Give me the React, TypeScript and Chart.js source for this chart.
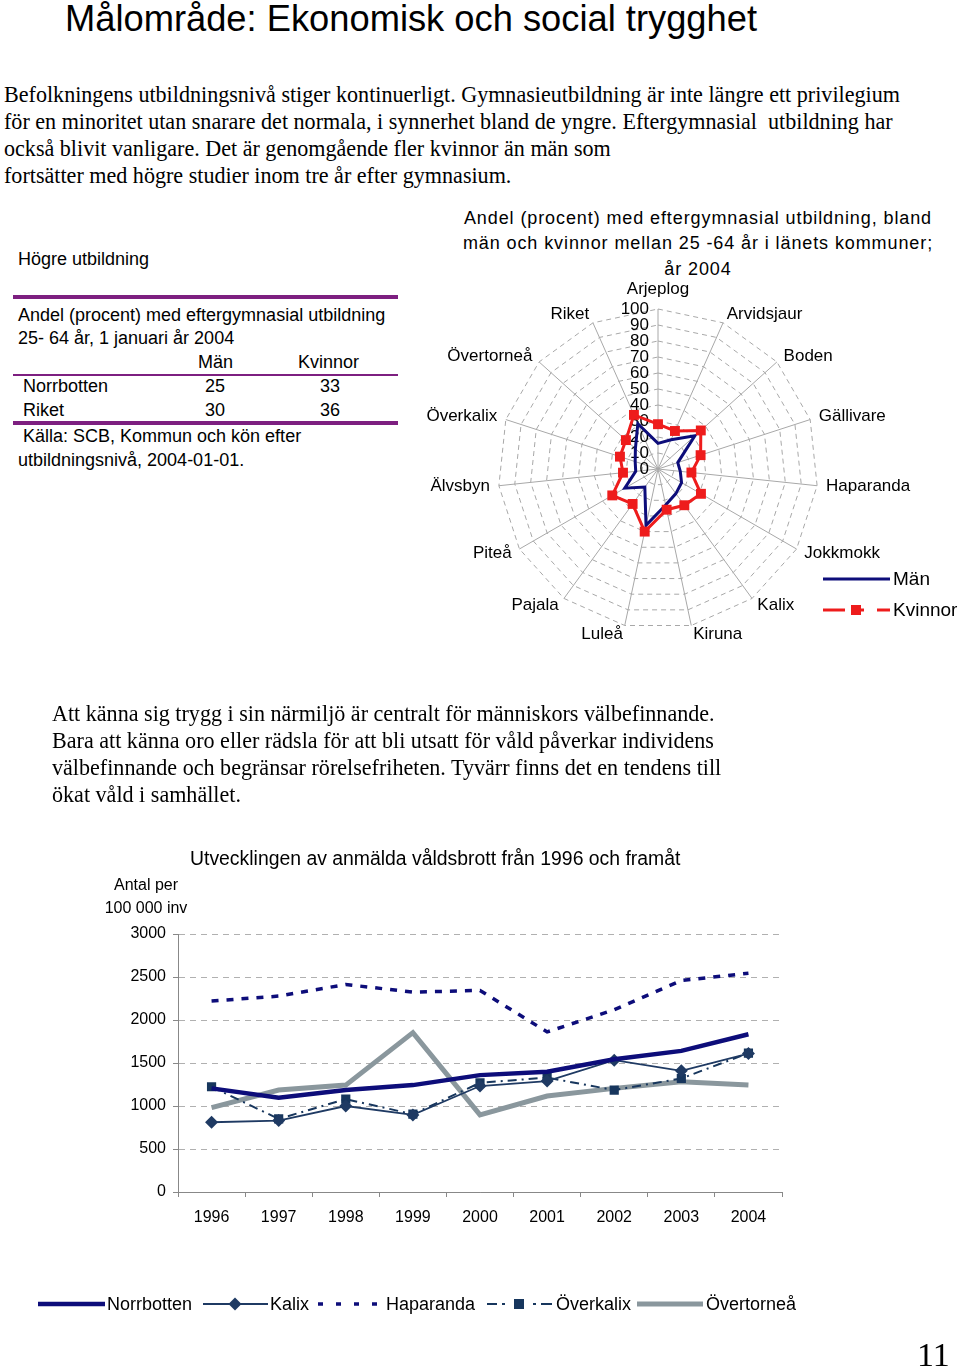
import React, { useEffect, useRef } from 'react';
import { Chart, registerables } from 'chart.js';

Chart.register(...registerables);

const SANS = '"Liberation Sans", Arial, Helvetica, sans-serif';
const SERIF = '"Liberation Serif", "Times New Roman", serif';

// ---- Radar chart data (Andel med eftergymnasial utbildning, %) ----
const radarLabels = [
  'Arjeplog', 'Arvidsjaur', 'Boden', 'Gällivare', 'Haparanda', 'Jokkmokk', 'Kalix',
  'Kiruna', 'Luleå', 'Pajala', 'Piteå', 'Älvsbyn', 'Överkalix', 'Övertorneå', 'Riket',
];
const radarMen = [16, 20, 31, 13, 14, 17, 19, 23, 36, 14, 24, 14, 15, 19, 31];
const radarWomen = [28, 26, 36, 28, 21, 31, 28, 26, 40, 27, 33, 22, 25, 27, 37];
const radarMin = 0;
const radarMax = 100;
const radarStep = 10;

// ---- Line chart data (anmälda våldsbrott per 100 000 inv) ----
const years = ['1996', '1997', '1998', '1999', '2000', '2001', '2002', '2003', '2004'];
const norrbotten = [1205, 1097, 1185, 1243, 1359, 1398, 1544, 1641, 1834];
const kalix = [811, 830, 1000, 896, 1232, 1290, 1533, 1409, 1610];
const haparanda = [2220, 2278, 2413, 2324, 2344, 1861, 2120, 2459, 2544];
const overkalix = [1224, 850, 1080, 905, 1270, 1330, 1185, 1320, 1615];
const overtornea = [981, 1185, 1243, 1853, 896, 1116, 1205, 1282, 1243];
const yMin = 0;
const yMax = 3000;
const yStep = 500;

// ---- Table data ----
const tableRows = [
  { name: 'Norrbotten', man: '25', kvinnor: '33' },
  { name: 'Riket', man: '30', kvinnor: '36' },
];

const NAVY = '#0d0d7a';
const KALIX_C = '#1f3a63';
const OVK_C = '#17365d';
const GRAY_C = '#8a979d';
const RED = '#ee1c1c';
const PURPLE = '#7d1f80';

type TxtProps = {
  x: number; y: number; size: number; family?: string; children: React.ReactNode;
  style?: React.CSSProperties; w?: number; align?: 'left' | 'center' | 'right';
};

function Txt({ x, y, size, family = SANS, children, style, w, align = 'left' }: TxtProps) {
  const k = family === SERIF ? 0.8375 : 0.8465;
  const st: React.CSSProperties = {
    position: 'absolute',
    top: y - size * k,
    fontSize: size,
    lineHeight: size + 'px',
    fontFamily: family,
    whiteSpace: 'pre',
    color: '#000',
    ...style,
  };
  if (w !== undefined) {
    st.left = align === 'center' ? x - w / 2 : align === 'right' ? x - w : x;
    st.width = w;
    st.textAlign = align;
  } else {
    st.left = x;
  }
  return <div style={st}>{children}</div>;
}

function RadarChart() {
  const ref = useRef<HTMLCanvasElement>(null);
  useEffect(() => {
    if (!ref.current) return;
    const textPlugin = {
      id: 'radarText',
      beforeDatasetsDraw(chart: any) {
        const s = chart.scales.r;
        const ctx = chart.ctx;
        ctx.save();
        ctx.fillStyle = '#000';
        ctx.font = `17px ${SANS}`;
        ctx.textAlign = 'right';
        ctx.textBaseline = 'middle';
        s.ticks.forEach((t: any) => {
          const p = s.getPointPositionForValue(0, t.value);
          ctx.fillText(String(t.value), p.x - 9, p.y);
        });
        (chart.data.labels as string[]).forEach((lab, i) => {
          const p = s.getPointPosition(i, s.drawingArea + (i === 0 ? 11 : 9));
          const dx = p.x - s.xCenter;
          ctx.textAlign = Math.abs(dx) < 2 ? 'center' : dx > 0 ? 'left' : 'right';
          ctx.textBaseline = i === 0 ? 'bottom' : 'middle';
          ctx.fillText(lab, p.x, p.y);
        });
        ctx.restore();
      },
    };
    const chart = new Chart(ref.current, {
      type: 'radar',
      data: {
        labels: radarLabels,
        datasets: [
          {
            label: 'Kvinnor',
            data: radarWomen,
            borderColor: RED,
            backgroundColor: RED,
            borderWidth: 3,
            fill: false,
            pointStyle: 'rect',
            pointRadius: 7,
            pointBackgroundColor: RED,
            pointBorderColor: RED,
            pointBorderWidth: 0,
          },
          {
            label: 'Män',
            data: radarMen,
            borderColor: NAVY,
            backgroundColor: NAVY,
            borderWidth: 3,
            fill: false,
            pointRadius: 0,
          },
        ],
      },
      options: {
        animation: false,
        responsive: false,
        maintainAspectRatio: false,
        layout: { padding: { left: 78, top: 29, right: 142, bottom: 21 } },
        plugins: { legend: { display: false }, title: { display: false }, tooltip: { enabled: false } },
        elements: { line: { tension: 0 } },
        scales: {
          r: {
            min: radarMin,
            max: radarMax,
            ticks: { stepSize: radarStep, display: false },
            pointLabels: { display: false },
            grid: { circular: false, color: '#a8a8a8', lineWidth: 1 },
            border: { dash: [5, 4] } as any,
            angleLines: { display: true, color: '#a8a8a8', lineWidth: 1 },
          },
        },
      },
      plugins: [textPlugin],
    } as any);
    return () => chart.destroy();
  }, []);
  return (
    <canvas
      ref={ref}
      width={540}
      height={370}
      style={{ position: 'absolute', left: 420, top: 280, width: 540, height: 370 }}
    />
  );
}

function LineChart() {
  const ref = useRef<HTMLCanvasElement>(null);
  useEffect(() => {
    if (!ref.current) return;
    const tickFont = { family: SANS, size: 16 };
    const chart = new Chart(ref.current, {
      type: 'line',
      data: {
        labels: years,
        datasets: [
          { label: 'Norrbotten', data: norrbotten, borderColor: NAVY, backgroundColor: NAVY, borderWidth: 4.5, pointRadius: 0 },
          {
            label: 'Kalix', data: kalix, borderColor: KALIX_C, backgroundColor: KALIX_C, borderWidth: 1.8,
            pointStyle: 'rectRot', pointRadius: 6.5, pointBackgroundColor: KALIX_C, pointBorderColor: KALIX_C, pointBorderWidth: 0,
          },
          { label: 'Haparanda', data: haparanda, borderColor: NAVY, backgroundColor: NAVY, borderWidth: 3.5, borderDash: [7, 8], pointRadius: 0 },
          {
            label: 'Överkalix', data: overkalix, borderColor: OVK_C, backgroundColor: OVK_C, borderWidth: 2, borderDash: [9, 5, 2, 5],
            pointStyle: 'rect', pointRadius: 6.5, pointBackgroundColor: OVK_C, pointBorderColor: OVK_C, pointBorderWidth: 0,
          },
          { label: 'Övertorneå', data: overtornea, borderColor: GRAY_C, backgroundColor: GRAY_C, borderWidth: 5, pointRadius: 0 },
        ],
      },
      options: {
        animation: false,
        responsive: false,
        maintainAspectRatio: false,
        layout: { padding: { top: 34, right: 18, bottom: 8, left: 0 } },
        plugins: { legend: { display: false }, title: { display: false }, tooltip: { enabled: false } },
        elements: { line: { tension: 0, fill: false } },
        scales: {
          x: {
            offset: true,
            grid: { display: true, offset: true, drawOnChartArea: false, drawTicks: true, tickLength: 5, color: '#888' },
            border: { display: true, color: '#888', width: 1 },
            ticks: { font: tickFont, color: '#000', padding: 11, maxRotation: 0, autoSkip: false },
            afterFit: (s: any) => { s.height = 40; },
          },
          y: {
            min: yMin,
            max: yMax,
            ticks: {
              stepSize: yStep, font: tickFont, color: '#000', padding: 7,
              callback: (v: any) => String(v),
            },
            grid: { color: '#b0b0b0', lineWidth: 1, tickLength: 5, tickColor: '#888', tickBorderDash: [] },
            border: { display: true, color: '#888', width: 1, dash: [6, 5] },
            afterFit: (s: any) => { s.width = 78; },
          },
        },
      },
    } as any);
    return () => chart.destroy();
  }, []);
  return (
    <canvas
      ref={ref}
      width={700}
      height={340}
      style={{ position: 'absolute', left: 100, top: 900, width: 700, height: 340 }}
    />
  );
}

function Svg({ x, y, w, h, children }: { x: number; y: number; w: number; h: number; children: React.ReactNode }) {
  return (
    <svg width={w} height={h} style={{ position: 'absolute', left: x, top: y, overflow: 'visible' }}>
      {children}
    </svg>
  );
}

const para1 = [
  'Befolkningens utbildningsnivå stiger kontinuerligt. Gymnasieutbildning är inte längre ett privilegium',
  'för en minoritet utan snarare det normala, i synnerhet bland de yngre. Eftergymnasial  utbildning har',
  'också blivit vanligare. Det är genomgående fler kvinnor än män som',
  'fortsätter med högre studier inom tre år efter gymnasium.',
];
const para2 = [
  'Att känna sig trygg i sin närmiljö är centralt för människors välbefinnande.',
  'Bara att känna oro eller rädsla för att bli utsatt för våld påverkar individens',
  'välbefinnande och begränsar rörelsefriheten. Tyvärr finns det en tendens till',
  'ökat våld i samhället.',
];
const radarTitle = [
  'Andel (procent) med eftergymnasial utbildning, bland',
  'män och kvinnor mellan 25 -64 år i länets kommuner;',
  'år 2004',
];

export default function App() {
  return (
    <div style={{ position: 'absolute', left: 0, top: 0, width: 960, height: 1368, background: '#fff', overflow: 'hidden' }}>
      <Txt x={65} y={32} size={36.3}>Målområde: Ekonomisk och social trygghet</Txt>

      {para1.map((l, i) => (
        <Txt key={'p1' + i} x={4} y={103 + i * 26.7} size={22.1} family={SERIF}>{l}</Txt>
      ))}

      {/* Left table */}
      <Txt x={18} y={265} size={18}>Högre utbildning</Txt>
      <div style={{ position: 'absolute', left: 13, top: 295, width: 385, height: 4, background: PURPLE }} />
      <Txt x={18} y={321} size={18}>Andel (procent) med eftergymnasial utbildning</Txt>
      <Txt x={18} y={344} size={18}>25- 64 år, 1 januari år 2004</Txt>
      <Txt x={198} y={368} size={18}>Män</Txt>
      <Txt x={298} y={368} size={18}>Kvinnor</Txt>
      <div style={{ position: 'absolute', left: 13, top: 374, width: 385, height: 2, background: PURPLE }} />
      {tableRows.map((r, i) => (
        <React.Fragment key={r.name}>
          <Txt x={23} y={392 + i * 24} size={18}>{r.name}</Txt>
          <Txt x={215} y={392 + i * 24} size={18} w={40} align="center">{r.man}</Txt>
          <Txt x={330} y={392 + i * 24} size={18} w={40} align="center">{r.kvinnor}</Txt>
        </React.Fragment>
      ))}
      <div style={{ position: 'absolute', left: 13, top: 421, width: 385, height: 4, background: PURPLE }} />
      <Txt x={23} y={442} size={18}>Källa: SCB, Kommun och kön efter</Txt>
      <Txt x={18} y={466} size={18}>utbildningsnivå, 2004-01-01.</Txt>

      {/* Radar title */}
      {radarTitle.map((l, i) => (
        <Txt key={'rt' + i} x={698} y={224 + i * 25.5} size={18} w={520} align="center" style={{ letterSpacing: 0.9 }}>{l}</Txt>
      ))}
      <RadarChart />
      {/* Legends (swatches) */}
      <Svg x={0} y={0} w={960} h={1368}>
        <line x1={823} y1={579} x2={890} y2={579} stroke={NAVY} strokeWidth={3} />
        <line x1={823} y1={610} x2={845} y2={610} stroke={RED} strokeWidth={3} />
        <rect x={851} y={605} width={10} height={10} fill={RED} />
        <line x1={861} y1={610} x2={864} y2={610} stroke={RED} strokeWidth={3} />
        <line x1={877} y1={610} x2={890} y2={610} stroke={RED} strokeWidth={3} />

        <line x1={38} y1={1304} x2={105} y2={1304} stroke={NAVY} strokeWidth={4.5} />
        <line x1={203} y1={1304} x2={268} y2={1304} stroke={KALIX_C} strokeWidth={1.8} />
        <polygon points="235,1297.5 241.5,1304 235,1310.5 228.5,1304" fill={KALIX_C} />
        <line x1={318} y1={1304} x2={378} y2={1304} stroke={NAVY} strokeWidth={3.5} strokeDasharray="5 13" />
        <line x1={487} y1={1304} x2={497} y2={1304} stroke={OVK_C} strokeWidth={2} />
        <line x1={502} y1={1304} x2={505} y2={1304} stroke={OVK_C} strokeWidth={2} />
        <rect x={514} y={1299} width={10} height={10} fill={OVK_C} />
        <line x1={533} y1={1304} x2={536} y2={1304} stroke={OVK_C} strokeWidth={2} />
        <line x1={541} y1={1304} x2={552} y2={1304} stroke={OVK_C} strokeWidth={2} />
        <line x1={637} y1={1304} x2={703} y2={1304} stroke={GRAY_C} strokeWidth={5} />
      </Svg>
      <Txt x={893} y={585} size={19}>Män</Txt>
      <Txt x={893} y={616} size={19}>Kvinnor</Txt>

      {para2.map((l, i) => (
        <Txt key={'p2' + i} x={52} y={722 + i * 26.8} size={22.1} family={SERIF}>{l}</Txt>
      ))}

      <Txt x={190} y={865} size={19.4}>Utvecklingen av anmälda våldsbrott från 1996 och framåt</Txt>
      <Txt x={146} y={891} size={16} w={120} align="center">Antal per</Txt>
      <Txt x={146} y={914} size={16} w={120} align="center">100 000 inv</Txt>
      <LineChart />

      <Txt x={107} y={1310} size={18}>Norrbotten</Txt>
      <Txt x={270} y={1310} size={18}>Kalix</Txt>
      <Txt x={386} y={1310} size={18}>Haparanda</Txt>
      <Txt x={556} y={1310} size={18}>Överkalix</Txt>
      <Txt x={706} y={1310} size={18}>Övertorneå</Txt>

      <Txt x={917} y={1366} size={34} family={SERIF}>11</Txt>
    </div>
  );
}
